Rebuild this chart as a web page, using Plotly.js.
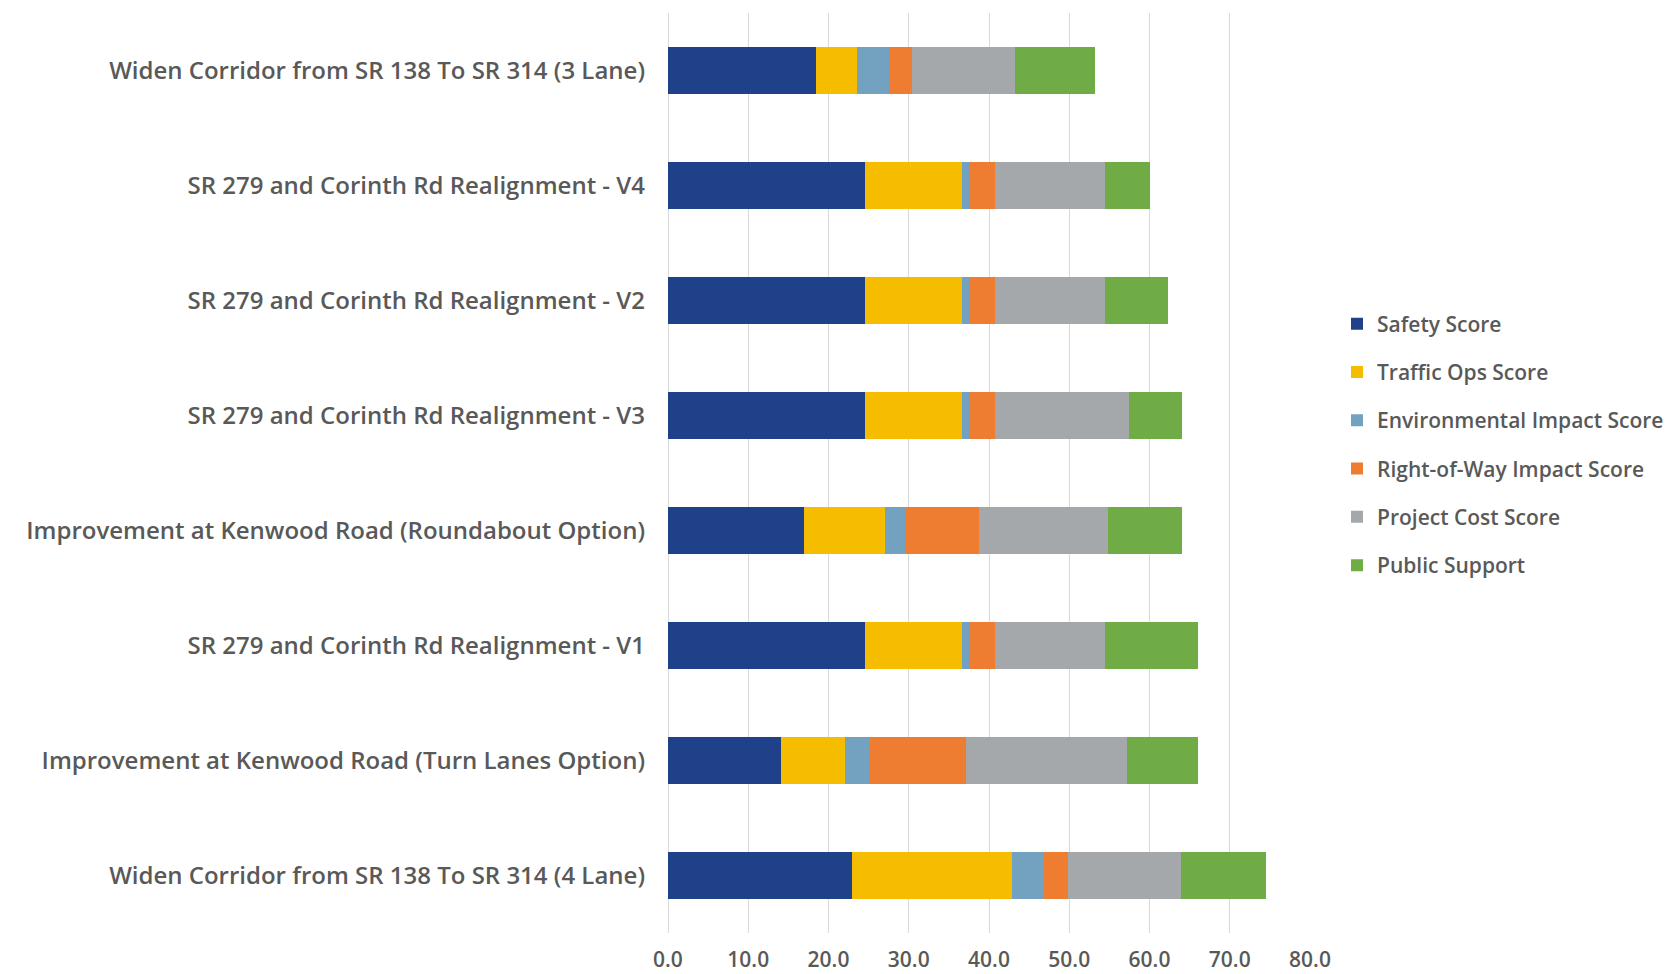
<!DOCTYPE html>
<html>
<head>
<meta charset="utf-8">
<script src="https://cdn.plot.ly/plotly-3.0.1.min.js"></script>
<style>html,body{margin:0;padding:0;background:#fff;}#chart{width:1680px;height:974px;}</style>
</head>
<body>
<div id="chart"></div>
<script>
const projects = [
  "Widen Corridor from SR 138 To SR 314 (3 Lane)",
  "SR 279 and Corinth Rd Realignment - V4",
  "SR 279 and Corinth Rd Realignment - V2",
  "SR 279 and Corinth Rd Realignment - V3",
  "Improvement at Kenwood Road (Roundabout Option)",
  "SR 279 and Corinth Rd Realignment - V1",
  "Improvement at Kenwood Road (Turn Lanes Option)",
  "Widen Corridor from SR 138 To SR 314 (4 Lane)"
];
const safetyScore        = [18.5, 24.6, 24.6, 24.6, 17.0, 24.6, 14.1, 22.9];
const trafficOpsScore    = [5.1, 12.0, 12.0, 12.0, 10.0, 12.0, 8.0, 20.0];
const environmentalScore = [4.0, 1.0, 1.0, 1.0, 2.7, 1.0, 2.9, 4.0];
const rightOfWayScore    = [2.8, 3.1, 3.1, 3.1, 9.0, 3.1, 12.1, 3.0];
const projectCostScore   = [12.9, 13.8, 13.8, 16.8, 16.1, 13.7, 20.1, 14.0];
const publicSupport      = [9.9, 5.6, 7.8, 6.5, 9.3, 11.6, 8.8, 10.6];

const seriesNames  = ["Safety Score", "Traffic Ops Score", "Environmental Impact Score", "Right-of-Way Impact Score", "Project Cost Score", "Public Support"];
const seriesValues = [safetyScore, trafficOpsScore, environmentalScore, rightOfWayScore, projectCostScore, publicSupport];
const seriesColors = ["#1f4189", "#f6bd00", "#73a2c0", "#ee7d31", "#a5a8aa", "#6fac46"];

const xTickVals = [0, 10, 20, 30, 40, 50, 60, 70, 80];

const FONT = "'Open Sans', Lato, sans-serif";
const GREY = "#595959";

const traces = seriesNames.map((name, i) => ({
  type: "bar",
  orientation: "h",
  name: name,
  legendgroup: "g" + i,
  y: projects,
  x: seriesValues[i],
  marker: {color: seriesColors[i], line: {width: 0}},
  hoverinfo: "x+y+name"
}));

const layout = {
  width: 1680,
  height: 974,
  paper_bgcolor: "#ffffff",
  plot_bgcolor: "#ffffff",
  barmode: "stack",
  bargap: 0.595,
  margin: {l: 668, r: 370, t: 13, b: 41, pad: 0, autoexpand: false},
  font: {family: FONT, color: GREY},
  xaxis: {
    range: [0, 80],
    tickvals: xTickVals,
    ticktext: xTickVals.map(v => v.toFixed(1)),
    showgrid: true,
    gridcolor: "#d9d9d9",
    gridwidth: 1,
    zeroline: true,
    zerolinecolor: "#d9d9d9",
    zerolinewidth: 1,
    showline: false,
    ticks: "",
    ticklabelstandoff: 12,
    tickfont: {family: FONT, size: 21, color: GREY, weight: 600},
    fixedrange: true
  },
  yaxis: {
    type: "category",
    autorange: "reversed",
    showgrid: false,
    zeroline: false,
    showline: false,
    ticks: "",
    ticklabelstandoff: 22,
    tickfont: {family: FONT, size: 24, color: GREY, weight: 600},
    fixedrange: true
  },
  showlegend: true,
  legend: {
    x: 1337 / 1680,
    xref: "container",
    xanchor: "left",
    y: 0.531,
    yanchor: "middle",
    traceorder: "grouped",
    tracegroupgap: 18,
    itemclick: false,
    itemdoubleclick: false,
    font: {family: FONT, size: 21, color: GREY, weight: 600},
    bgcolor: "rgba(0,0,0,0)",
    borderwidth: 0
  }
};

Plotly.newPlot("chart", traces, layout, {displayModeBar: false});
</script>
</body>
</html>
